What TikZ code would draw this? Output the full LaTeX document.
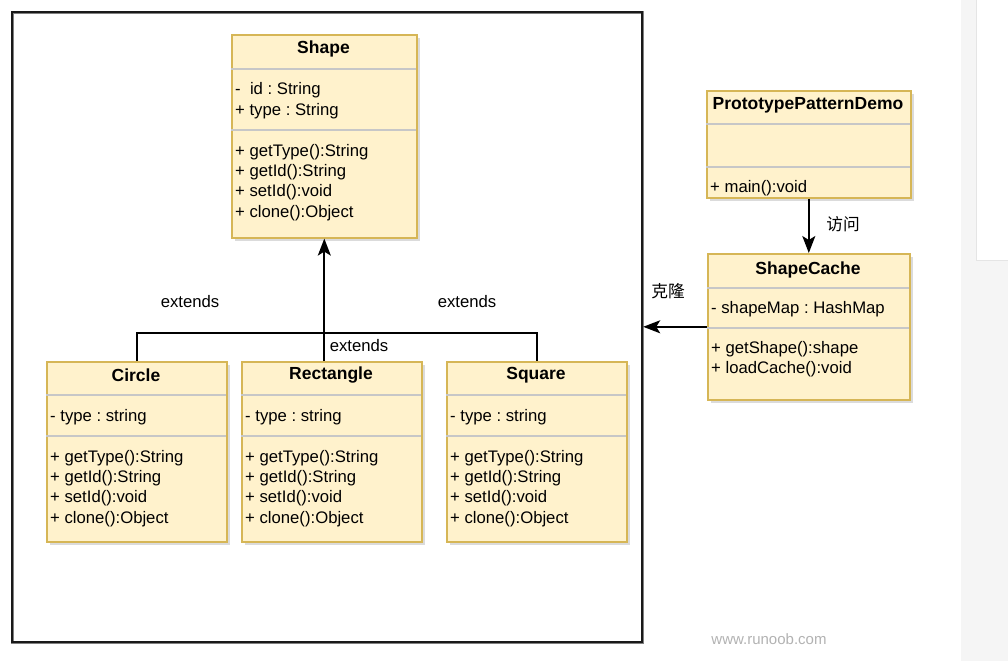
\documentclass[tikz,border=0pt]{standalone}
\usepackage{fontspec}
\setmainfont{Liberation Sans}
\newfontfamily\cjk{Noto Sans CJK SC}
\usetikzlibrary{arrows.meta,shadows}
\definecolor{boxfill}{HTML}{FFF2CC}
\definecolor{boxline}{HTML}{D6B656}
\frenchspacing

\begin{document}
\begin{tikzpicture}[x=1pt,y=-1pt,font=\fontsize{16.7}{20}\selectfont,
  umlbox/.style={draw=boxline,line width=1.6pt,fill=boxfill,anchor=north west,
    drop shadow={shadow xshift=3pt,shadow yshift=-3pt,fill=black!28}},
  sep/.style={draw=black!22,line width=1.2pt},
  txt/.style={anchor=west,inner sep=0pt,yshift=-1.5pt},
  ttl/.style={inner sep=0pt,yshift=-1.5pt,font=\fontsize{17.5}{20}\selectfont\bfseries},
  link/.style={line width=1.8pt},
  arr/.style={-{Stealth[length=17pt,width=13pt,inset=4pt]}}]
\useasboundingbox (0,0) rectangle (1008,661);
% page strip on the right
\fill[black!4] (961,0) rectangle (1008,661);
\fill[white] (976,0) rectangle (1008,260);
\draw[black!10] (976,0) -- (976,260) -- (1008,260);
% outer frame
\node[draw=black!50,line width=3.4pt,anchor=north west,minimum width=630pt,minimum height=630pt,inner sep=0pt] (frameH) at (11,11) {};
\node[draw=black!90,line width=2.2pt,anchor=north west,minimum width=630pt,minimum height=630pt,inner sep=0pt] (frame) at (11,11) {};

% Shape
\node[umlbox,minimum width=185pt,minimum height=203pt] (shape) at (231,34) {};
\node[ttl] (shapeT) at (323.5,47) {Shape};
\draw[sep] (231,69) -- (416,69);
\draw[sep] (231,130) -- (416,130);
\node[txt] (shapeA1) at (235,89) {-\ \ id : String};
\node[txt] (shapeA2) at (235,110) {+ type : String};
\foreach \m [count=\i] in {+ getType():String,+ getId():String,+ setId():void,+ clone():Object} {
  \node[txt] (shapeM\i) at (235,130+\i*20.3) {\m};
}

% subclasses
\foreach \nm/\lbl/\x in {circle/Circle/46,rect/Rectangle/241,square/Square/446} {
  \node[umlbox,minimum width=180pt,minimum height=180pt] (\nm) at (\x,361) {};
  \node[ttl] (\nm T) at (\x+90,374) {\lbl};
  \draw[sep] (\x,395) -- (\x+180,395);
  \draw[sep] (\x,436) -- (\x+180,436);
  \node[txt] (\nm A) at (\x+4,416) {- type : string};
  \foreach \m [count=\i] in {+ getType():String,+ getId():String,+ setId():void,+ clone():Object} {
    \node[txt] (\nm M\i) at (\x+4,436+\i*20.3) {\m};
  }
}

% PrototypePatternDemo
\node[umlbox,minimum width=204pt,minimum height=107pt] (demo) at (706,90) {};
\node[ttl] (demoT) at (808,104) {PrototypePatternDemo};
\draw[sep] (706,124) -- (910,124);
\draw[sep] (706,167) -- (910,167);
\node[txt] (demoM) at (710,187) {+ main():void};

% ShapeCache
\node[umlbox,minimum width=202pt,minimum height=146pt] (cache) at (707,253) {};
\node[ttl] (cacheT) at (808,268) {ShapeCache};
\draw[sep] (707,288) -- (909,288);
\draw[sep] (707,328) -- (909,328);
\node[txt] (cacheA) at (711,308) {- shapeMap : HashMap};
\node[txt] (cacheM1) at (711,348) {+ getShape():shape};
\node[txt] (cacheM2) at (711,368) {+ loadCache():void};

% inheritance
\draw[link,arr] (rect.north -| shape.south) -- (shape.south);
\draw[link] (circle.north) -- ++(0,-28) -| (square.north);
\node (ext1) at (190,302) {extends};
\node (ext2) at (467,302) {extends};
\node (ext3) at (359,346) {extends};

% usage
\draw[link,arr] (demo.south) -- (cache.north);
\node (visit) at (843,224) {\cjk 访问};
\draw[link,arr] (cache.west) -- (frame.east |- cache.west);
\node (clone) at (668,291) {\cjk 克隆};

\node[text=black!30,font=\fontsize{15}{15}\selectfont] (mark) at (769,639) {www.runoob.com};
\end{tikzpicture}
\end{document}
